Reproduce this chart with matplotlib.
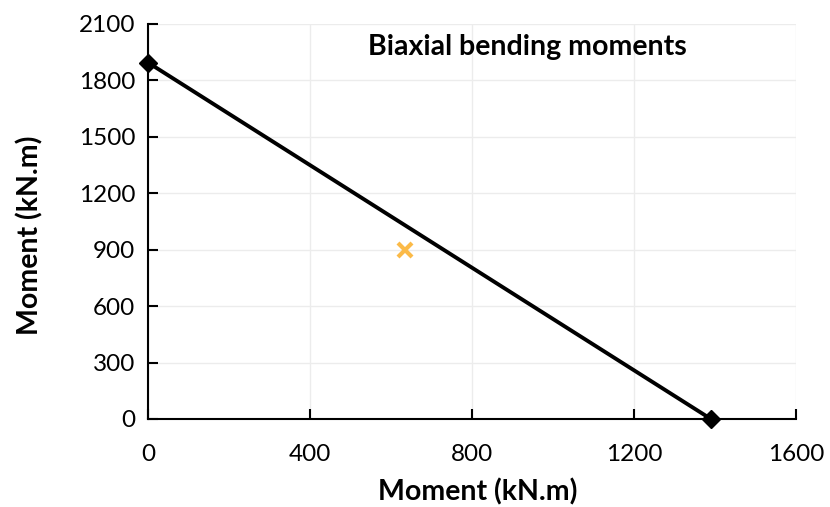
import matplotlib.pyplot as plt

plt.rcParams['font.family'] = ['Lato', 'DejaVu Sans']

# Interaction line (biaxial bending)
mx_line = [0, 1390]
my_line = [1895, 0]

# Applied moment point
mx_point = [635]
my_point = [900]

xticks = [0, 400, 800, 1200, 1600]
yticks = [0, 300, 600, 900, 1200, 1500, 1800, 2100]

fig = plt.figure(figsize=(8.3, 5.07), dpi=100)
ax = fig.add_axes([0.1783, 0.1736, 0.7807, 0.7791])

ax.plot(mx_line, my_line, color='black', lw=2.8, marker='D', markersize=9,
        zorder=3, clip_on=False)
ax.plot(mx_point, my_point, linestyle='none', marker='x', color='#FBBA48',
        markersize=10, markeredgewidth=3, zorder=4)

ax.set_xlim(0, 1600)
ax.set_ylim(0, 2100)
ax.set_xticks(xticks)
ax.set_yticks(yticks)
ax.grid(True, color='#ececec', lw=1)
ax.set_axisbelow(True)

for s in ['top', 'right']:
    ax.spines[s].set_visible(False)
for s in ['left', 'bottom']:
    ax.spines[s].set_linewidth(1.5)
ax.tick_params(direction='in', length=7, width=1.5, labelsize=17.5)
ax.tick_params(axis='x', pad=18)
ax.tick_params(axis='y', pad=9)

ax.set_xlabel('Moment (kN.m)', fontsize=20.5, fontweight='bold', va='center')
ax.set_ylabel('Moment (kN.m)', fontsize=20.5, fontweight='bold', va='center')
ax.xaxis.set_label_coords(0.509, -0.185)
ax.yaxis.set_label_coords(-0.182, 0.466)
ax.text(0.586, 0.942, 'Biaxial bending moments', transform=ax.transAxes,
        ha='center', va='center', fontsize=20.5, fontweight='bold')

fig.savefig('out.png', dpi=100)
